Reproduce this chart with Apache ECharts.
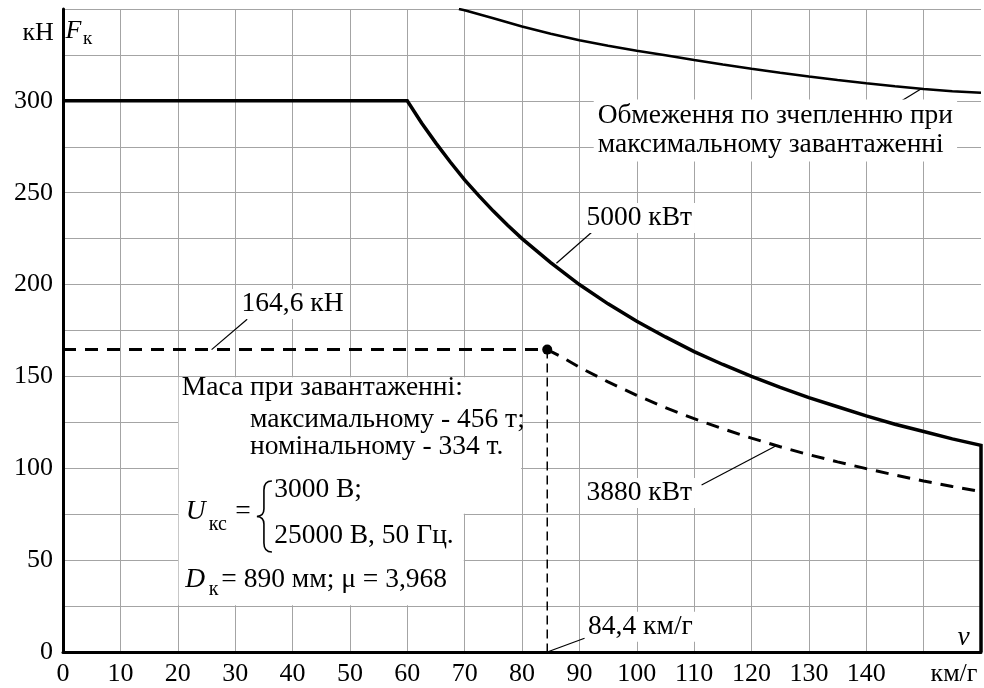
<!DOCTYPE html>
<html>
<head>
<meta charset="utf-8">
<script src="https://cdn.jsdelivr.net/npm/echarts@6/dist/echarts.min.js"></script>
<style>
html, body { margin: 0; padding: 0; background: #fff; }
#chart { width: 984px; height: 688px; }
</style>
</head>
<body>
<div id="chart"></div>
<script>
// tick labels
var xTickLabels = [0, 10, 20, 30, 40, 50, 60, 70, 80, 90, 100, 110, 120, 130, 140];
var yTickLabels = [0, 50, 100, 150, 200, 250, 300];

// 5000 kW traction curve (km/h, kN)
var speed5000 = [0, 60, 62.5, 65, 67.5, 70, 72.5, 75, 77.5, 80, 85, 90, 95, 100, 105, 110, 115, 120, 125, 130, 135, 140, 145, 150, 155, 160, 160];
var force5000 = [300, 300, 288, 277, 266.7, 257, 248.3, 240, 232.3, 225, 212, 200, 189.5, 180, 171.5, 163.5, 156.5, 150, 144, 138.5, 133.5, 128.5, 124, 120, 116, 112.5, 0];

// 3880 kW curve (dashed)
var speed3880 = [0, 84.4, 87, 90, 95, 100, 105, 110, 115, 120, 125, 130, 135, 140, 145, 150, 155, 160];
var force3880 = [164.6, 164.6, 160.5, 155, 147, 139.7, 133, 127, 121.5, 116.4, 111.7, 107.4, 103.5, 99.8, 96.3, 93.1, 90.1, 87.3];

// adhesion limit at max load
var speedAdh = [69, 70, 75, 80, 85, 90, 95, 100, 105, 110, 115, 120, 125, 130, 135, 140, 145, 150, 155, 160];
var forceAdh = [350, 349.3, 345, 340.5, 336.5, 333, 330, 327.3, 324.8, 322.2, 319.8, 317.5, 315.3, 313.2, 311.3, 309.6, 308, 306.5, 305.2, 304.4];

// rated point
var pointSpeed = 84.4;
var pointForce = 164.6;

function zip(a, b) {
    var out = [];
    for (var i = 0; i < a.length; i++) out.push([a[i], b[i]]);
    return out;
}

var FONT = '"Liberation Serif", "Times New Roman", serif';
var BLACK = '#000';
var GRID = '#a4a4a4';

var chart = echarts.init(document.getElementById('chart'));

var option = {
    animation: false,
    backgroundColor: '#fff',
    grid: { left: 63, right: 2, top: 9, bottom: 36 },
    xAxis: {
        type: 'value', min: 0, max: 160, interval: 10,
        axisLine: { show: true, onZero: false, lineStyle: { color: BLACK, width: 3 } },
        axisTick: { show: false },
        axisLabel: {
            margin: 9, color: BLACK, fontFamily: FONT, fontSize: 26,
            formatter: function (v) { return xTickLabels.indexOf(v) >= 0 ? String(v) : ''; }
        },
        splitLine: { show: true, showMaxLine: false, lineStyle: { color: GRID, width: 1 } },
        name: 'км/г', nameLocation: 'end', nameGap: -27,
        nameTextStyle: { color: BLACK, fontFamily: FONT, fontSize: 26, align: 'center', verticalAlign: 'top', padding: [9, 0, 0, 0] }
    },
    yAxis: {
        type: 'value', min: 0, max: 350, interval: 25,
        axisLine: { show: true, onZero: false, lineStyle: { color: BLACK, width: 3 } },
        axisTick: { show: false },
        axisLabel: {
            margin: 10, color: BLACK, fontFamily: FONT, fontSize: 26,
            formatter: function (v) { return yTickLabels.indexOf(v) >= 0 ? String(v) : ''; }
        },
        splitLine: { show: true, lineStyle: { color: GRID, width: 1 } }
    },
    series: [
        {
            name: 'Обмеження', type: 'line', data: zip(speedAdh, forceAdh),
            showSymbol: false, clip: true,
            lineStyle: { color: BLACK, width: 2.5 }
        },
        {
            name: '5000 кВт', type: 'line', data: zip(speed5000, force5000),
            showSymbol: false, clip: true,
            lineStyle: { color: BLACK, width: 3.5, join: 'miter' }
        },
        {
            name: '3880 кВт', type: 'line', data: zip(speed3880, force3880),
            showSymbol: false,
            lineStyle: { color: BLACK, width: 3, type: [13, 9] }
        },
        {
            name: 'v84', type: 'line', data: [[pointSpeed, pointForce], [pointSpeed, 0]],
            showSymbol: false,
            lineStyle: { color: BLACK, width: 1.5, type: [9, 5] }
        },
        {
            name: 'point', type: 'scatter', data: [[pointSpeed, pointForce]],
            symbolSize: 10, itemStyle: { color: BLACK, opacity: 1 }, z: 5,
            markArea: {
                silent: true,
                itemStyle: { color: '#fff', opacity: 1 },
                data: [
                    [{ coord: [20.15, 149.6] }, { coord: [79.85, 75.3] }],
                    [{ coord: [20.15, 75.6] }, { coord: [69.85, 25.4] }]
                ]
            }
        },
        {
            name: 'leaders', type: 'lines', coordinateSystem: 'cartesian2d', polyline: false,
            lineStyle: { color: BLACK, width: 1.2, opacity: 1 }, z: 6,
            data: [
                { coords: [[144.4, 296.6], [149.6, 306.6]] },
                { coords: [[92.4, 229.2], [86.0, 211.6]] },
                { coords: [[32.1, 181.1], [25.9, 164.6]] },
                { coords: [[111.3, 90.9], [124.3, 112.3]] },
                { coords: [[84.4, 0], [90.9, 7.5]] }
            ]
        }
    ]
};

chart.setOption(option);

function at(v, f) { return chart.convertToPixel({ gridIndex: 0 }, [v, f]); }

function txt(text, v, f, opts) {
    opts = opts || {};
    var p = at(v, f);
    var size = opts.size || 27.5;
    var style = {
        text: text, fill: BLACK,
        font: (opts.italic ? 'italic ' : '') + size + 'px ' + FONT,
        align: opts.align || 'left', textAlign: opts.align || 'left',
        verticalAlign: 'middle', textVerticalAlign: 'middle'
    };
    if (opts.lineHeight) style.lineHeight = opts.lineHeight;
    if (opts.bg) { style.backgroundColor = '#fff'; style.padding = opts.pad || [1, 3]; }
    return { type: 'text', x: p[0], y: p[1], z: 100, silent: true, style: style };
}

// curly brace of the U_кс system, drawn as curves
var braceStyle = { fill: null, stroke: BLACK, lineWidth: 1.6 };
function bez(x1, y1, cx, cy, x2, y2) {
    return { type: 'bezierCurve', z: 100, silent: true, shape: { x1: x1, y1: y1, cpx1: cx, cpy1: cy, x2: x2, y2: y2 }, style: braceStyle };
}
function seg(x1, y1, x2, y2) {
    return { type: 'line', z: 100, silent: true, shape: { x1: x1, y1: y1, x2: x2, y2: y2 }, style: braceStyle };
}
var bp = at(33.8, 93.6);

var graphics = [
    txt('кН', -1.6, 337, { align: 'right', size: 26 }),
    txt('F', 0.45, 338, { italic: true, size: 26 }),
    txt('к', 3.5, 333.5, { size: 19 }),
    txt('Обмеження по зчепленню при\nмаксимальному завантаженні', 92.5, 283.9, { bg: true, pad: [2, 4], lineHeight: 29 }),
    txt('5000 кВт', 90.7, 236.3, { bg: true }),
    txt('164,6 кН', 30.6, 189.4, { bg: true }),
    txt('3880 кВт', 90.7, 86.6, { bg: true }),
    txt('84,4 км/г', 91.0, 13.8, { bg: true }),
    txt('v', 155.9, 7.6, { italic: true }),
    txt('Маса при завантаженні:', 20.7, 143.7),
    txt('максимальному - 456 т;', 32.6, 126.3),
    txt('номінальному - 334 т.', 32.6, 111.6),
    txt('U', 21.4, 76.2, { italic: true }),
    txt('кс', 25.4, 69.1, { size: 20 }),
    txt('=', 30.0, 76.2),
    txt('3000 В;', 36.8, 88.2),
    txt('25000 В, 50 Гц.', 36.8, 63.1),
    txt('D', 21.3, 39.2, { italic: true }),
    txt('к', 25.4, 33.8, { size: 20 }),
    txt('= 890 мм; μ = 3,968', 27.6, 39.2),
    {
        type: 'group', x: bp[0], y: bp[1], silent: true,
        children: [
            bez(15, 1, 7, 1, 7, 10),
            seg(7, 10, 7, 29),
            bez(7, 29, 7, 36, 0, 36.5),
            bez(0, 36.5, 7, 37, 7, 44),
            seg(7, 44, 7, 63),
            bez(7, 63, 7, 72, 15, 72)
        ]
    }
];

chart.setOption({ graphic: graphics });

window.addEventListener('resize', function () {
    chart.resize();
});
</script>
</body>
</html>
